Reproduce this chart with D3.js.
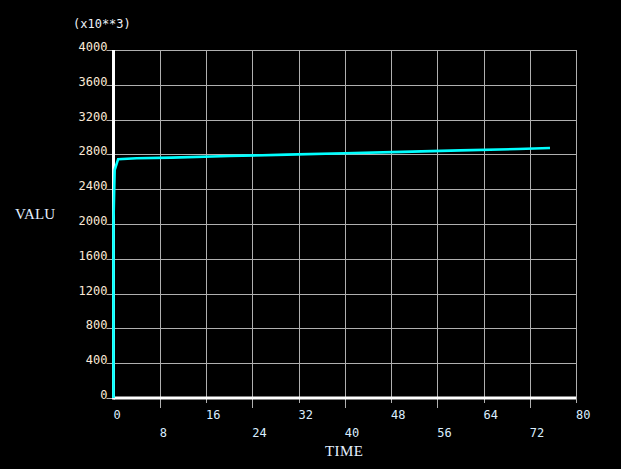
<!DOCTYPE html>
<html><head><meta charset="utf-8">
<script src="https://cdn.jsdelivr.net/npm/d3@7"></script>
<style>
html,body{margin:0;padding:0;background:#000;}
svg{display:block;}
</style></head>
<body>
<script>
// data (values in units of 10**3)
const timeValues = [0, 0, 0.2, 0.8, 4, 10, 20, 30, 40, 50, 60, 70, 75.5];
const valuValues = [0, 2040, 2620, 2745, 2755, 2763, 2781, 2797, 2813, 2829, 2846, 2862, 2873];
const xTicks = [0, 8, 16, 24, 32, 40, 48, 56, 64, 72, 80];
const yTicks = [0, 400, 800, 1200, 1600, 2000, 2400, 2800, 3200, 3600, 4000];
const yMultiplier = "(x10**3)";
const xTitle = "TIME";
const yTitle = "VALU";

const W = 621, H = 469;
const svg = d3.select("body").append("svg").attr("width", W).attr("height", H);
svg.append("rect").attr("width", W).attr("height", H).attr("fill", "#000");

const x = d3.scaleLinear().domain([0, 80]).range([113.5, 576]);
const y = d3.scaleLinear().domain([0, 4000]).range([398, 50]);

const grid = "#b0b0b0";
const mono = "'DejaVu Sans Mono', monospace";
const serif = "'Liberation Serif', 'DejaVu Serif', serif";

// horizontal gridlines
svg.append("g").selectAll("line").data(yTicks.filter(d => d > 0)).join("line")
  .attr("x1", x(0)).attr("x2", x(80))
  .attr("y1", d => Math.round(y(d)) + 0.5).attr("y2", d => Math.round(y(d)) + 0.5)
  .attr("stroke", grid).attr("stroke-width", 1);
// y ticks
svg.append("g").selectAll("line").data(yTicks).join("line")
  .attr("x1", x(0) - 7).attr("x2", x(0))
  .attr("y1", d => Math.round(y(d)) + 0.5).attr("y2", d => Math.round(y(d)) + 0.5)
  .attr("stroke", grid).attr("stroke-width", 1);

// vertical gridlines + ticks below axis
svg.append("g").selectAll("line").data(xTicks.filter(d => d > 0)).join("line")
  .attr("x1", d => Math.round(x(d)) + 0.5).attr("x2", d => Math.round(x(d)) + 0.5)
  .attr("y1", y(4000))
  .attr("y2", d => y(0) + (xTicks.indexOf(d) % 2 === 1 ? 10 : 5))
  .attr("stroke", grid).attr("stroke-width", 1);

// axes lines (white, thick)
svg.append("line").attr("x1", x(0)).attr("x2", x(0)).attr("y1", y(4000)).attr("y2", y(0) + 1.5)
  .attr("stroke", "#fff").attr("stroke-width", 3);
svg.append("line").attr("x1", x(0)).attr("x2", x(80)).attr("y1", y(0)).attr("y2", y(0))
  .attr("stroke", "#fff").attr("stroke-width", 3);

// y tick labels
svg.append("g").selectAll("text").data(yTicks).join("text")
  .attr("x", x(0) - 6).attr("y", d => Math.round(y(d)) + 1)
  .attr("text-anchor", "end")
  .attr("font-family", mono).attr("font-size", 12)
  .attr("fill", "#fbe9d6")
  .text(d => d);

// x tick labels (alternating rows)
svg.append("g").selectAll("text").data(xTicks).join("text")
  .attr("x", d => x(d))
  .attr("y", (d, i) => i % 2 === 0 ? 419 : 437)
  .attr("text-anchor", "start")
  .attr("font-family", mono).attr("font-size", 12)
  .attr("fill", "#dbeeff")
  .text(d => d);

// multiplier
svg.append("text").attr("x", 73).attr("y", 28)
  .attr("font-family", mono).attr("font-size", 12).attr("fill", "#eef2f8")
  .text(yMultiplier);

// titles
svg.append("text").attr("x", 15).attr("y", 219)
  .attr("font-family", serif).attr("font-size", 15)
  .attr("textLength", 40)
  .attr("fill", "#e4f0ff").text(yTitle);
svg.append("text").attr("x", 325).attr("y", 456)
  .attr("font-family", serif).attr("font-size", 15)
  .attr("textLength", 38)
  .attr("fill", "#e4f0ff").text(xTitle);

// data line
const line = d3.line().x((d, i) => x(timeValues[i])).y((d, i) => y(valuValues[i]));
svg.append("path").datum(valuValues)
  .attr("d", line)
  .attr("fill", "none").attr("stroke", "#00ffff").attr("stroke-width", 2.6)
  .attr("stroke-linejoin", "miter");
</script>
</body></html>
